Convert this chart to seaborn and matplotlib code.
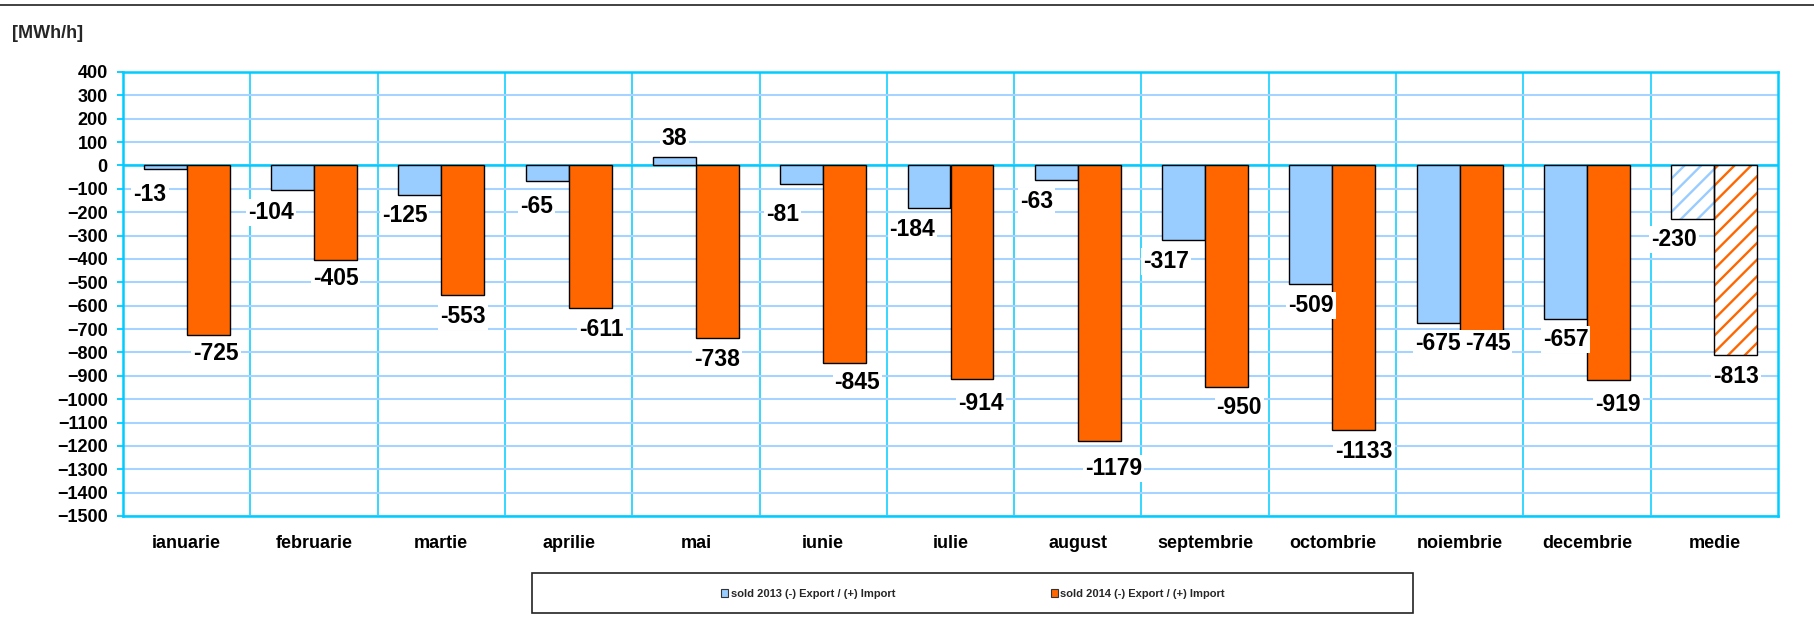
import numpy as np
import pandas as pd
import seaborn as sns
import matplotlib.pyplot as plt
from matplotlib.patches import Patch, Rectangle
from matplotlib.lines import Line2D

luni = ['ianuarie', 'februarie', 'martie', 'aprilie', 'mai', 'iunie', 'iulie',
        'august', 'septembrie', 'octombrie', 'noiembrie', 'decembrie', 'medie']
sold_2013 = [-13, -104, -125, -65, 38, -81, -184, -63, -317, -509, -675, -657, -230]
sold_2014 = [-725, -405, -553, -611, -738, -845, -914, -1179, -950, -1133, -745, -919, -813]
serii = ['sold 2013 (-) Export / (+) Import', 'sold 2014 (-) Export / (+) Import']

# label nudges (x in category units, y in data units)
dx_2013 = [-0.12, -0.17, -0.12, -0.08, 0, -0.15, -0.13, -0.155, -0.14, 0, 0, 0, -0.145]
dy_2013 = [-113, -98, -89, -109, 78, -130, -91, -91, -95, -92, -86, -86, -86]
dx_2014 = [0.06, 0, 0, 0.09, 0, 0.1, 0.07, 0.11, 0.1, 0.08, 0.05, 0.075, 0]
dy_2014 = [-81, -77, -92, -92, -92, -82, -106, -118, -85, -92, -16, -104, -89]

blue = '#99CCFF'
orange = '#FF6600'
cyan = '#00CCFF'

df = pd.DataFrame({
    'luna': luni * 2,
    'val': sold_2013 + sold_2014,
    'serie': [serii[0]] * len(luni) + [serii[1]] * len(luni),
})

sns.set_theme(style='white')
plt.rcParams['font.family'] = ['Liberation Sans', 'DejaVu Sans']
plt.rcParams['font.weight'] = 'bold'
plt.rcParams['hatch.linewidth'] = 1.7

fig = plt.figure(figsize=(18.15, 6.32), dpi=100)
ax = fig.add_axes([123/1815, 1-516/632, (1778-123)/1815, (516-72)/632])

sns.barplot(data=df, x='luna', y='val', hue='serie', order=luni, hue_order=serii,
            palette=[blue, orange], width=0.675, gap=0, edgecolor='black',
            linewidth=1, saturation=1, legend=False, ax=ax, zorder=3)

# medie bars: hatched
for cont, col in zip(ax.containers, [blue, orange]):
    b = cont.patches[-1]
    b.set_facecolor('white')
    b.set_edgecolor(col)
    b.set_hatch('//')
    b.set_linewidth(0)
    ax.bar(b.get_x() + b.get_width()/2, b.get_height(), width=b.get_width(),
           fill=False, edgecolor='black', linewidth=1, zorder=4)

ax.set_xlim(-0.5, len(luni) - 0.5)
ax.set_ylim(-1500, 400)
ax.set_yticks(np.arange(-1500, 401, 100))
ax.set_xticks(np.arange(len(luni) - 1) + 0.5, minor=True)
ax.yaxis.grid(True, color='#A6D3FF', linewidth=1.5, zorder=0)
ax.xaxis.grid(True, which='minor', color=cyan, linewidth=1.1, zorder=0)
ax.xaxis.grid(False, which='major')
ax.set_axisbelow(True)
ax.axhline(0, color=cyan, linewidth=1.8, zorder=1)
for s in ax.spines.values():
    s.set_color(cyan)
    s.set_linewidth(1.8)

ax.set_xlabel('')
ax.set_ylabel('')
ax.tick_params(axis='y', which='major', direction='out', length=4, width=1.3,
               color=cyan, left=True, pad=7, labelsize=13)
ax.tick_params(axis='x', which='both', length=0, pad=14, labelsize=13)
for t in ax.get_xticklabels() + ax.get_yticklabels():
    t.set_fontweight('bold')
    t.set_color('black')

# data labels
for cont, vals, dxs, dys in zip(ax.containers, [sold_2013, sold_2014],
                                [dx_2013, dx_2014], [dy_2013, dy_2014]):
    for b, v, dx, dy in zip(cont.patches, vals, dxs, dys):
        ax.text(b.get_x() + b.get_width()/2 + dx, v + dy, f'{v}',
                ha='center', va='center', fontsize=16.5, fontweight='bold',
                color='black', zorder=6,
                bbox=dict(facecolor='white', edgecolor='none', pad=1.5))

fig.text(12/1815, 1-33/632, '[MWh/h]', fontsize=13, fontweight='bold',
         va='center', ha='left')

# legend box
fig.add_artist(Rectangle((532/1815, 1-613/632), 881/1815, 40/632,
                         transform=fig.transFigure, facecolor='white',
                         edgecolor='#222222', linewidth=1.2))
handles = [Patch(facecolor=blue, edgecolor='#333333', linewidth=0.8),
           Patch(facecolor=orange, edgecolor='#333333', linewidth=0.8)]
fig.legend(handles, serii, loc='center', bbox_to_anchor=(973/1815, 1-594/632),
           ncol=2, frameon=False, prop={'size': 8, 'weight': 'bold'},
           handlelength=0.65, handleheight=0.65, handletextpad=0.2,
           columnspacing=14)

fig.add_artist(Line2D([0, 1], [1-5/632, 1-5/632], transform=fig.transFigure,
                      color='#333333', linewidth=1.3))

fig.savefig('out.png', dpi=100)
